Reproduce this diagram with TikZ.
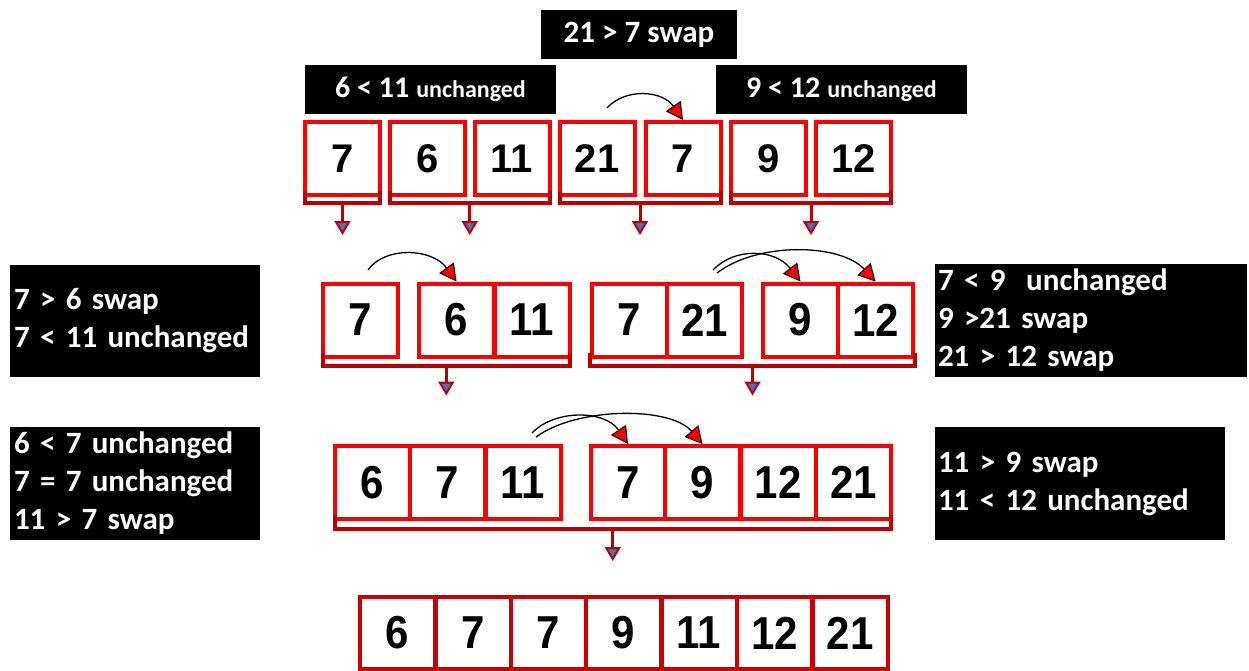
\documentclass[tikz,border=0pt]{standalone}
\usepackage{fontspec}
\usepackage{graphicx}
\setmainfont{Carlito}
\newfontfamily\digitfont{Liberation Sans}
\usetikzlibrary{arrows.meta,calc}
\definecolor{boxred}{HTML}{FF0000}
\definecolor{brred}{HTML}{C00000}
\definecolor{finalred}{HTML}{CC0000}
\definecolor{tipblue}{HTML}{4472C4}
\newcommand{\dgt}[1]{\scalebox{1}[1.1]{#1}}
\tikzset{
  cell/.style={draw=boxred, line width=4pt, fill=white, minimum width=75pt, minimum height=73pt, inner sep=0pt, font=\digitfont\bfseries\fontsize{42}{42}\selectfont},
  cellA/.style={cell, font=\digitfont\bfseries\fontsize{40}{40}\selectfont},
  cellF/.style={cell, draw=finalred, minimum height=72pt},
  bracket/.style={draw=brred, line width=4pt},
  downline/.style={draw=brred, line width=3pt},
  downtip/.style={draw=brred, fill=tipblue, line width=2pt, line join=miter},
  swaparr/.style={draw=black, line width=1.3pt, -{Triangle[width=18pt,length=17pt,fill=red,line width=1pt]}},
  lbl/.style={fill=black, text=white, inner xsep=3pt, inner ysep=0pt, font=\bfseries\fontsize{31}{38}\selectfont},
}
\begin{document}
\begin{tikzpicture}[x=1pt,y=-1pt]
\useasboundingbox (0,0) rectangle (1249,671);
\fill[white] (0,0) rectangle (1249,671);

% top labels
\node[lbl, minimum width=196pt, minimum height=49pt, font=\bfseries\fontsize{31}{31}\selectfont] (t1) at (639,34.5) {21 > 7 swap};
\node[lbl, minimum width=251pt, minimum height=49pt] (t2) at (430.5,89.5) {{\fontsize{30}{30}\selectfont 6 < 11} {\fontsize{24}{24}\selectfont unchanged}};
\node[lbl, minimum width=251pt, minimum height=49pt] (t3) at (841.5,89.5) {{\fontsize{30}{30}\selectfont 9 < 12} {\fontsize{24}{24}\selectfont unchanged}};

% side labels
\node[lbl, minimum width=250pt, minimum height=112pt, text width=242pt, align=left] (l1) at (135,321) {7 > 6 swap\\7 < 11 unchanged};
\node[lbl, minimum width=250pt, minimum height=113pt, text width=242pt, align=left] (l2) at (135,483.5) {6 < 7 unchanged\\7 = 7 unchanged\\11 > 7 swap};
\node[lbl, minimum width=312pt, minimum height=113pt, text width=306pt, align=left] (r1) at (1091,320.5) {7 < 9\ \ unchanged\\9 >21 swap\\21 > 12 swap};
\node[lbl, minimum width=290pt, minimum height=113pt, text width=284pt, align=left] (r2) at (1080,483.5) {11 > 9 swap\\11 < 12 unchanged};

% row 1
\node[cellA] (b11) at (342.5,158.5) {7};
\node[cellA] (b12) at (427.5,158.5) {6};
\node[cellA] (b13) at (512,158.5) {11};
\node[cellA] (b14) at (597,158.5) {21};
\node[cellA] (b15) at (683,158.5) {7};
\node[cellA] (b16) at (768.5,158.5) {9};
\node[cellA] (b17) at (853.5,158.5) {12};

% row 2
\node[cell] (b21) at (360.5,320) {\dgt{7}};
\node[cell] (b22) at (456.5,320) {\dgt{6}};
\node[cell] (b23) at (532,320) {\dgt{11}};
\node[cell] (b24) at (629.5,320) {\dgt{7}};
\node[cell] (b25) at (704.5,320) {\dgt{21}};
\node[cell] (b26) at (800.5,320) {\dgt{9}};
\node[cell] (b27) at (875.5,320) {\dgt{12}};

% row 3
\node[cell] (b31) at (372,482.5) {\dgt{6}};
\node[cell] (b32) at (447.5,482.5) {\dgt{7}};
\node[cell] (b33) at (523,482.5) {\dgt{11}};
\node[cell] (b34) at (628,482.5) {\dgt{7}};
\node[cell] (b35) at (702.5,482.5) {\dgt{9}};
\node[cell] (b36) at (778,482.5) {\dgt{12}};
\node[cell] (b37) at (853.5,482.5) {\dgt{21}};

% row 4
\node[cellF] (b41) at (397,633) {\dgt{6}};
\node[cellF] (b42) at (473,633) {\dgt{7}};
\node[cellF] (b43) at (548.5,633) {\dgt{7}};
\node[cellF] (b44) at (623.5,633) {\dgt{9}};
\node[cellF] (b45) at (699,633) {\dgt{11}};
\node[cellF] (b46) at (774.5,633) {\dgt{12}};
\node[cellF] (b47) at (850,633) {\dgt{21}};

% brackets row 1
\draw[bracket] ($(b11.south west)+(2,-6)$) |- ($(b11.south east)+(-2,6)$) -- ($(b11.south east)+(-2,-6)$);
\draw[bracket] ($(b12.south west)+(2,-6)$) |- ($(b13.south east)+(-2,6)$) -- ($(b13.south east)+(-2,-6)$);
\draw[bracket] ($(b14.south west)+(2,-6)$) |- ($(b15.south east)+(-2,6)$) -- ($(b15.south east)+(-2,-6)$);
\draw[bracket] ($(b16.south west)+(2,-6)$) |- ($(b17.south east)+(-2,6)$) -- ($(b17.south east)+(-2,-6)$);
% brackets row 2
\draw[bracket] ($(b21.south west)+(2,-6)$) |- ($(b23.south east)+(-2,7)$) -- ($(b23.south east)+(-2,-6)$);
\draw[bracket] ($(b24.south west)+(0,-6)$) |- ($(b27.south east)+(0,7)$) -- ($(b27.south east)+(0,-6)$);
% bracket row 3
\draw[bracket] ($(b31.south west)+(2,-6)$) |- ($(b37.south east)+(-2,8)$) -- ($(b37.south east)+(-2,-6)$);

% down arrows
\coordinate (g1) at ($(b11.south west)!0.5!(b11.south east)+(0,8)$);
\coordinate (g2) at ($(b12.south west)!0.5!(b13.south east)+(0,8)$);
\coordinate (g3) at ($(b14.south west)!0.5!(b15.south east)+(0,8)$);
\coordinate (g4) at ($(b16.south west)!0.5!(b17.south east)+(0,8)$);
\coordinate (g5) at ($(b21.south west)!0.5!(b23.south east)+(0,9)$);
\coordinate (g6) at ($(b24.south west)!0.5!(b27.south east)+(0,9)$);
\coordinate (g7) at ($(b31.south west)!0.5!(b37.south east)+(0,10)$);
\foreach \g/\len in {g1/30,g2/30,g3/30,g4/30,g5/28,g6/28,g7/30}{
  \coordinate (\g e) at ($(\g)+(0,\len)$);
  \draw[downline] (\g) -- ($(\g e)+(0,-12)$);
  \draw[downtip] ($(\g e)+(-6.5,-13)$) -- ($(\g e)+(6.5,-13)$) -- ($(\g e)+(0,-2)$) -- cycle;
}

% swap arcs
\coordinate (s1) at (607,108);
\draw[swaparr] (s1) .. controls (625,88) and (662,90) .. (b15.north);
\coordinate (s2) at (368,270);
\draw[swaparr] (s2) .. controls (385,246) and (432,248) .. (b22.north);
\coordinate (s3) at (713,270);
\draw[swaparr] (s3) .. controls (735,247) and (775,249) .. (b26.north);
\coordinate (s4) at (717,273);
\draw[swaparr] (s4) .. controls (757,242) and (840,243) .. (b27.north);
\coordinate (s5) at (532,433);
\draw[swaparr] (s5) .. controls (555,409) and (605,410) .. (b34.north);
\coordinate (s6) at (536,437);
\draw[swaparr] (s6) .. controls (577,407) and (670,406) .. (b35.north);
\end{tikzpicture}
\end{document}
